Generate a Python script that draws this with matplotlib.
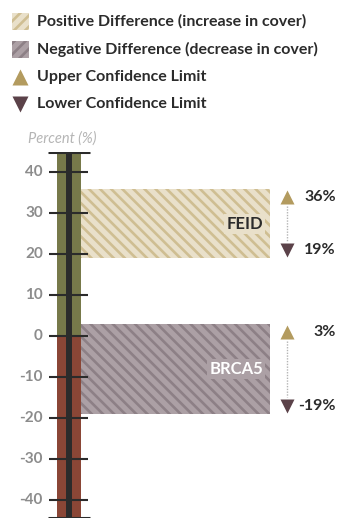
import matplotlib
matplotlib.use("Agg")
import matplotlib.pyplot as plt
import matplotlib.transforms as mtransforms
from matplotlib.patches import Rectangle

# ---- data ----
sites = ["FEID", "BRCA5"]
upper_limits = [36, 3]
lower_limits = [19, -19]
yticks = [40, 30, 20, 10, 0, -10, -20, -30, -40]
ylim_top, ylim_bottom = 45, -44.5
legend_labels = ["Positive Difference (increase in cover)",
                 "Negative Difference (decrease in cover)",
                 "Upper Confidence Limit",
                 "Lower Confidence Limit"]

# ---- style ----
FONT = "Lato"
plt.rcParams["font.family"] = [FONT, "DejaVu Sans"]
plt.rcParams["hatch.linewidth"] = 1.9
GREEN = "#77794a"
RED = "#8a4636"
BLACK = "#2b2b2b"
POS_BG, POS_HATCH = "#e9e0ca", "#cfbe92"
NEG_BG, NEG_HATCH = "#aca0a5", "#8d8086"
UP_COL = "#b39b5f"
LO_COL = "#5b4249"
TICK_COL = "#8c8c8c"

W, H = 347, 525
fig = plt.figure(figsize=(W / 100, H / 100), dpi=100)

# main axes: x in pixel units, y in percent
px_top, px_bot = 152, 518
ax = fig.add_axes([0, (H - px_bot) / H, 1, (px_bot - px_top) / H])
ax.set_xlim(0, W)
ax.set_ylim(ylim_bottom, ylim_top)
ax.axis("off")

col_x, col_w = 69, 24
# column: green above zero, red below
ax.bar(col_x, ylim_top, width=col_w, bottom=0, color=GREEN, zorder=2)
ax.bar(col_x, ylim_bottom, width=col_w, bottom=0, color=RED, zorder=2)
ax.plot([col_x, col_x], [ylim_bottom, ylim_top], color=BLACK, lw=4.3,
        solid_capstyle="butt", zorder=3)
for lim in (ylim_top, ylim_bottom):
    ax.plot([48, 90], [lim, lim], color=BLACK, lw=2.2, solid_capstyle="butt", zorder=4)
for t in yticks:
    ax.plot([49, 88], [t, t], color=BLACK, lw=1.5, solid_capstyle="butt", zorder=4)
    ax.text(43, t, f"{t}", ha="right", va="center", color=TICK_COL,
            fontsize=11, fontweight="bold", zorder=5)

ax.text(62, ylim_top + 1.6, "Percent (%)", ha="center", va="bottom",
        color="#b5b5b5", fontsize=10.5, fontstyle="italic", clip_on=False)

# difference boxes
box_x0, box_x1 = 81, 270
for name, up, lo in zip(sites, upper_limits, lower_limits):
    pos = (up + lo) / 2 > 0
    bg, hc = (POS_BG, POS_HATCH) if pos else (NEG_BG, NEG_HATCH)
    ax.bar((box_x0 + box_x1) / 2, up - lo, width=box_x1 - box_x0, bottom=lo,
           color=bg, edgecolor=hc, linewidth=0, hatch="\\\\\\", zorder=1)
    ax.text(263, (up + lo) / 2, name, ha="right", va="center",
            color=BLACK if pos else "white", fontsize=12, fontweight="bold",
            bbox=dict(boxstyle="square,pad=0.12", fc=bg, ec="none"), zorder=5)
    # confidence limits
    tx = 287
    off_dn = mtransforms.offset_copy(ax.transData, fig=fig, x=0, y=-8, units="dots")
    off_up = mtransforms.offset_copy(ax.transData, fig=fig, x=0, y=8, units="dots")
    ax.plot([tx], [up], marker="^", ms=10, color=UP_COL, mec="none",
            transform=off_dn, zorder=5)
    ax.plot([tx], [lo], marker="v", ms=10, color=LO_COL, mec="none",
            transform=off_up, zorder=5)
    off_dn2 = mtransforms.offset_copy(ax.transData, fig=fig, x=0, y=-17, units="dots")
    off_up2 = mtransforms.offset_copy(ax.transData, fig=fig, x=0, y=17, units="dots")
    p0 = off_dn2.transform((tx, up))
    p1 = off_up2.transform((tx, lo))
    ax.plot([p0[0], p1[0]], [p0[1], p1[1]], transform=None, color="#b4b4b4",
            lw=1.0, ls=(0, (1, 1)), zorder=4)
    ax.text(336, up, f"{up}%", ha="right", va="center", color=BLACK,
            fontsize=11.5, fontweight="bold", transform=off_dn, zorder=5)
    ax.text(336, lo, f"{lo}%", ha="right", va="center", color=BLACK,
            fontsize=11.5, fontweight="bold", transform=off_up, zorder=5)

# legend overlay in pixel coords
lax = fig.add_axes([0, 0, 1, 1], zorder=10)
lax.set_xlim(0, W)
lax.set_ylim(H, 0)
lax.axis("off")
rows = [21, 49, 77, 104]
lax.add_patch(Rectangle((12, rows[0] - 8.5), 17, 17, fc=POS_BG, ec=POS_HATCH, lw=0, hatch="///"))
lax.add_patch(Rectangle((12, rows[1] - 8.5), 17, 17, fc=NEG_BG, ec=NEG_HATCH, lw=0, hatch="///"))
lax.plot([20.5], [rows[2]], marker="^", ms=11, color=UP_COL, mec="none")
lax.plot([20.5], [rows[3]], marker="v", ms=11, color=LO_COL, mec="none")
for r, lab in zip(rows, legend_labels):
    lax.text(37, r, lab, ha="left", va="center", color=BLACK, fontsize=11.5,
             fontweight="bold")

fig.savefig("out.png", dpi=100)
